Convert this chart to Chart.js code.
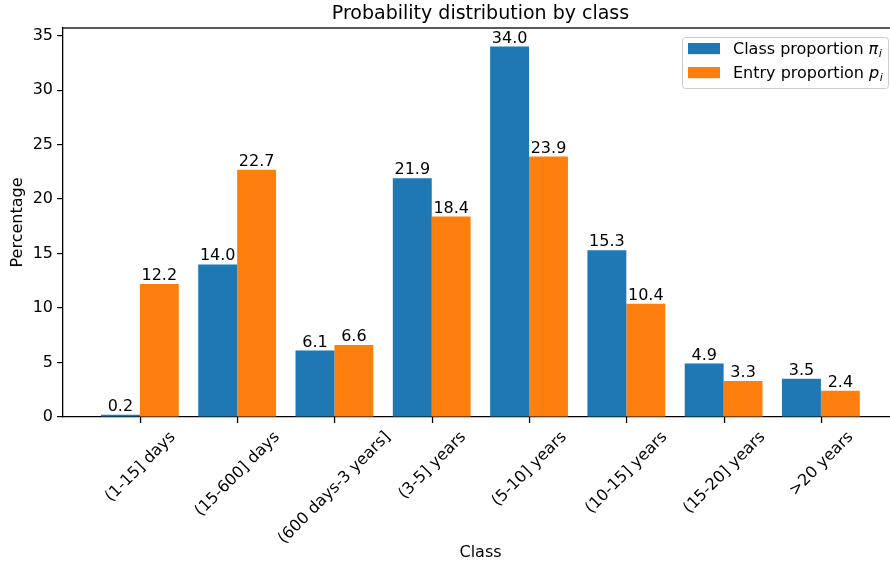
<!DOCTYPE html>
<html>
<head>
<meta charset="utf-8">
<script src="https://cdn.jsdelivr.net/npm/chart.js@4"></script>
<style>
  html, body { margin: 0; overflow: hidden; background: #fff; }
</style>
</head>
<body>
<canvas id="myChart" width="890" height="566"></canvas>
<script>
const categories = ['(1-15] days', '(15-600] days', '(600 days-3 years]', '(3-5] years',
  '(5-10] years', '(10-15] years', '(15-20] years', '>20 years'];
const classProportion = [0.2, 14.0, 6.1, 21.9, 34.0, 15.3, 4.9, 3.5];
const entryProportion = [12.2, 22.7, 6.6, 18.4, 23.9, 10.4, 3.3, 2.4];
const yTicks = [0, 5, 10, 15, 20, 25, 30, 35];

const FONT = '"DejaVu Sans", sans-serif';
const blue = '#1f77b4';
const orange = '#ff7f0e';

// titles, bar labels, rotated category labels, frame and legend
const extras = {
  id: 'extras',
  afterDraw(chart) {
    const ctx = chart.ctx;
    const a = chart.chartArea;
    const xs = chart.scales.x;
    ctx.save();
    ctx.fillStyle = '#000';

    // value labels above bars
    ctx.font = '16px ' + FONT;
    ctx.textAlign = 'center';
    ctx.textBaseline = 'alphabetic';
    chart.data.datasets.forEach((ds, di) => {
      chart.getDatasetMeta(di).data.forEach((bar, i) => {
        ctx.fillText(ds.data[i].y.toFixed(1), bar.x, bar.y - 4);
      });
    });

    // x tick marks and rotated category labels
    categories.forEach((c, i) => {
      const x = Math.round(xs.getPixelForValue(i)) + 0.5;
      ctx.fillRect(x - 0.6, a.bottom, 1.3, 6);
      const w = ctx.measureText(c).width;
      const h = 16 * 1.17;
      const bh = (w + h) * Math.SQRT1_2;
      ctx.save();
      ctx.translate(x, a.bottom + 11 + bh / 2);
      ctx.rotate(-Math.PI / 4);
      ctx.textAlign = 'center';
      ctx.textBaseline = 'middle';
      ctx.fillText(c, 0, 0);
      ctx.restore();
    });

    // top spine; the right spine is cut off by the picture edge
    ctx.fillRect(a.left, a.top - 0.65, a.right - a.left, 1.3);

    // title and axis titles, centred on the full (uncut) axes
    const cx = 480.5;
    ctx.textAlign = 'center';
    ctx.font = '19px ' + FONT;
    ctx.fillText('Probability distribution by class', cx, 19);
    ctx.font = '16px ' + FONT;
    ctx.fillText('Class', cx, 557);
    ctx.save();
    ctx.translate(22, (a.top + a.bottom) / 2);
    ctx.rotate(-Math.PI / 2);
    ctx.fillText('Percentage', 0, 0);
    ctx.restore();

    // legend
    ctx.beginPath();
    ctx.roundRect(682.5, 37.5, 206, 51, 3);
    ctx.fillStyle = 'rgba(255,255,255,0.8)';
    ctx.fill();
    ctx.strokeStyle = '#cccccc';
    ctx.lineWidth = 1;
    ctx.stroke();
    const rows = [
      { color: blue, text: 'Class proportion ', sym: 'π', base: 54 },
      { color: orange, text: 'Entry proportion ', sym: 'p', base: 78 }
    ];
    ctx.textAlign = 'left';
    rows.forEach(r => {
      ctx.fillStyle = r.color;
      ctx.fillRect(688, r.base - 11, 32, 11.2);
      ctx.fillStyle = '#000';
      ctx.font = '16px ' + FONT;
      ctx.fillText(r.text, 733, r.base);
      let x = 733 + ctx.measureText(r.text).width;
      ctx.font = 'italic 16px ' + FONT;
      ctx.fillText(r.sym, x, r.base);
      x += ctx.measureText(r.sym).width;
      ctx.font = 'italic 11px ' + FONT;
      ctx.fillText('i', x + 0.5, r.base + 3);
    });
    ctx.restore();
  }
};

const config = {
  type: 'bar',
  data: {
    datasets: [{
      label: 'Class proportion',
      data: classProportion.map((v, i) => ({ x: i, y: v })),
      backgroundColor: blue,
      borderWidth: 0,
      categoryPercentage: 0.8,
      barPercentage: 1.0
    }, {
      label: 'Entry proportion',
      data: entryProportion.map((v, i) => ({ x: i, y: v })),
      backgroundColor: orange,
      borderWidth: 0,
      categoryPercentage: 0.8,
      barPercentage: 1.0
    }]
  },
  options: {
    responsive: false,
    animation: false,
    layout: { padding: { left: 0, top: 28, right: 0, bottom: 0 } },
    plugins: {
      legend: { display: false },
      title: { display: false },
      tooltip: { enabled: false }
    },
    scales: {
      x: {
        type: 'linear',
        min: -0.79,
        max: 7.71,
        offset: false,
        afterBuildTicks: s => { s.ticks = categories.map((c, i) => ({ value: i })); },
        afterFit: s => { s.height = 149; },
        ticks: { display: false },
        grid: { display: false },
        border: { display: true, color: '#000', width: 1.3 }
      },
      y: {
        min: 0,
        max: 35.7,
        afterBuildTicks: s => { s.ticks = yTicks.map(v => ({ value: v })); },
        afterFit: s => { s.width = 63; },
        ticks: { color: '#000', font: { family: FONT, size: 16 }, padding: 4 },
        grid: { display: true, drawOnChartArea: false, drawTicks: true, tickLength: 6, color: '#000', lineWidth: 1.2 },
        border: { display: true, color: '#000', width: 1.3 }
      }
    }
  },
  plugins: [extras]
};

const myChart = new Chart(document.getElementById('myChart'), config);
</script>
</body>
</html>
